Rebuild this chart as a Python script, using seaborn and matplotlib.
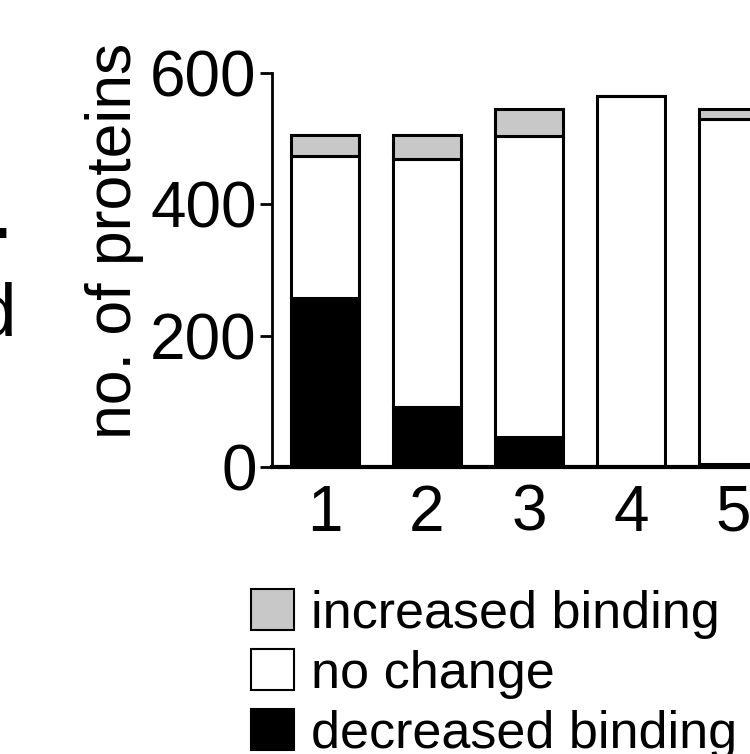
import numpy as np
import pandas as pd
import matplotlib
matplotlib.use("Agg")
import matplotlib.pyplot as plt
import seaborn as sns
from matplotlib.patches import Patch

# values (no. of proteins per group)
groups = ["1", "2", "3", "4", "5"]
decreased = [257, 91, 46, 0, 4]
no_change = [217, 378, 458, 565, 526]
increased = [31, 36, 41, 0, 15]

legend_labels = ["increased binding", "no change", "decreased binding"]
colors = {"increased binding": "#c8c8c8", "no change": "white", "decreased binding": "black"}

sns.set_style("ticks")
plt.rcParams["font.family"] = ["Liberation Sans", "DejaVu Sans"]
for k in ["text.color", "axes.labelcolor", "xtick.color", "ytick.color", "axes.edgecolor"]:
    plt.rcParams[k] = "black"

df = pd.DataFrame({"group": groups, "decreased": decreased,
                   "no_change": no_change, "increased": increased})
df["bottom_nc"] = df["decreased"]
df["bottom_inc"] = df["decreased"] + df["no_change"]

fig = plt.figure(figsize=(7.5, 7.54), dpi=100)
ax = fig.add_axes([0.3627, 0.3806, 0.685, 0.5225])

lw = 2.2
sns.barplot(data=df, x="group", y="decreased", color=colors["decreased binding"],
            edgecolor="black", linewidth=lw, width=0.67, ax=ax)
sns.barplot(data=df, x="group", y="no_change", bottom=df["bottom_nc"],
            color=colors["no change"], edgecolor="black", linewidth=lw, width=0.67, ax=ax)
sns.barplot(data=df, x="group", y="increased", bottom=df["bottom_inc"],
            color=colors["increased binding"], edgecolor="black", linewidth=lw, width=0.67, ax=ax)

ax.set_xlim(-0.52, 4.52)
ax.set_ylim(0, 600)
ax.set_yticks([0, 200, 400, 600])
ax.set_xlabel("")
ax.set_ylabel("no. of proteins", fontsize=45)
ax.yaxis.set_label_coords(-0.25, 0.575)
ax.tick_params(axis="y", labelsize=46, length=9, width=2, pad=2)
ax.tick_params(axis="x", labelsize=46, length=0, pad=12)
sns.despine(ax=ax, top=True, right=True)
ax.spines["left"].set_linewidth(2)
ax.spines["bottom"].set_linewidth(3)

handles = [Patch(facecolor=colors[l], edgecolor="black", linewidth=1.5) for l in legend_labels]
fig.legend(handles, legend_labels, loc="upper left", bbox_to_anchor=(0.334, 0.219),
           frameon=False, fontsize=37.5, handlelength=0.84, handleheight=0.84,
           handletextpad=0.33, labelspacing=0.2, borderaxespad=0, borderpad=0)

# partial panel letters at the left edge (cropped neighbour panel)
fig.text(-0.033, 0.555, "d", fontsize=54, ha="left", va="baseline")
fig.text(-0.024, 0.662, "-", fontsize=60, fontweight="bold", ha="left", va="baseline")

fig.savefig("out.png", dpi=100)
